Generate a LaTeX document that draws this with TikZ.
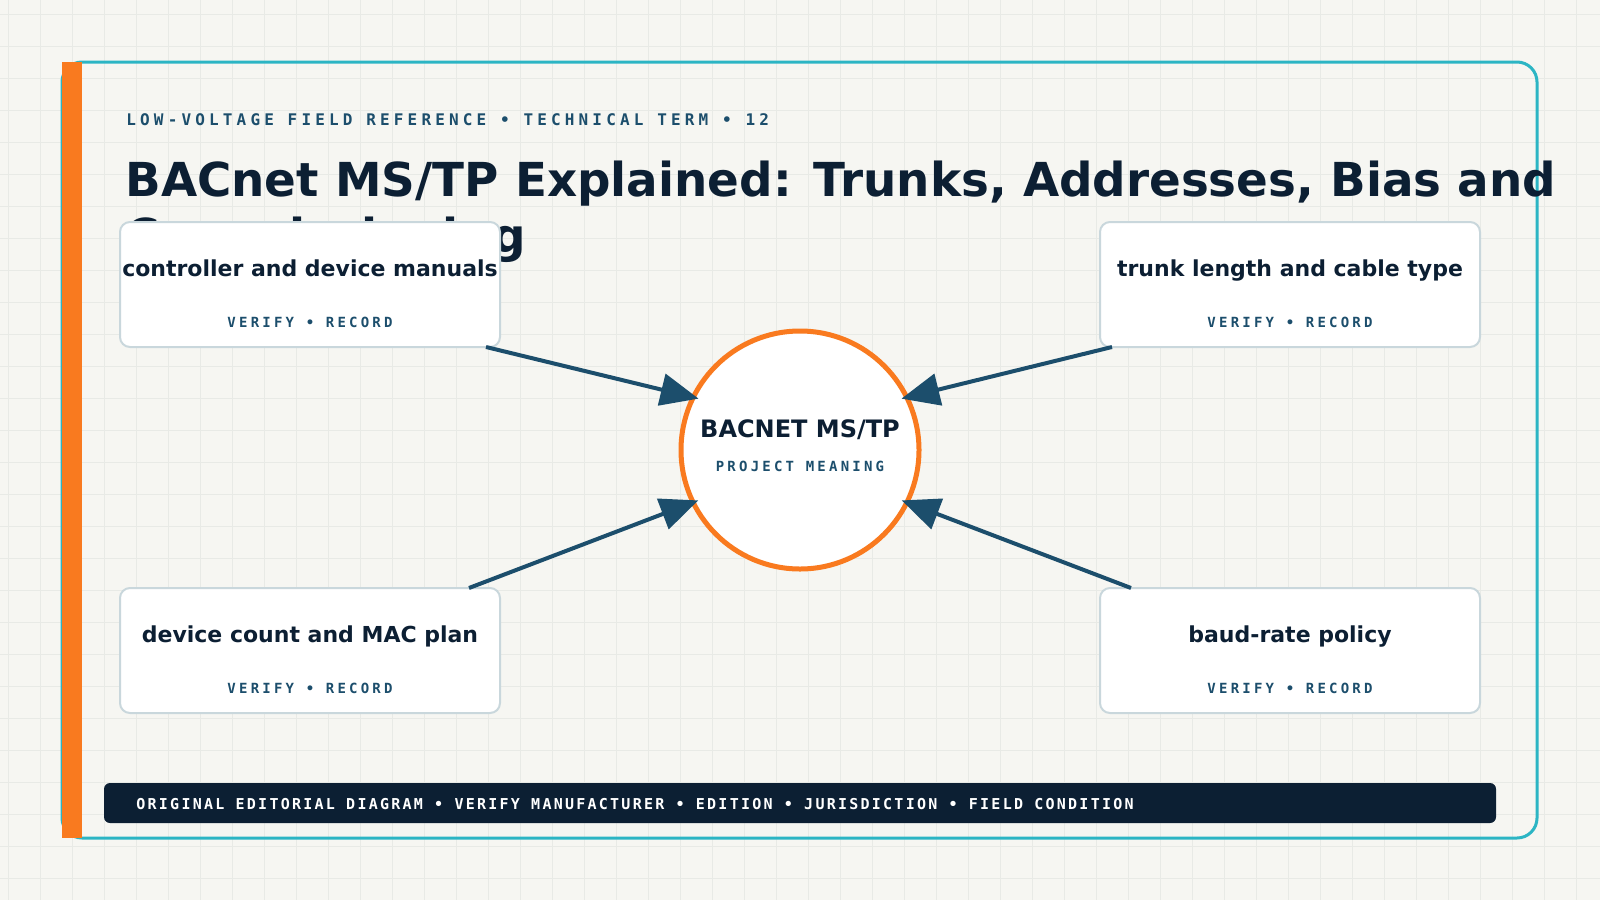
\documentclass[tikz,border=0pt]{standalone}
\usepackage{fontspec}
\setmainfont{DejaVu Sans}
\newfontfamily\monof{DejaVu Sans Mono}
\usetikzlibrary{arrows.meta}
\definecolor{bg}{HTML}{F6F6F2}
\definecolor{gridc}{HTML}{E8EAE6}
\definecolor{teal}{HTML}{2CB5C4}
\definecolor{orng}{HTML}{F97A1F}
\definecolor{navy}{HTML}{0C1F33}
\definecolor{steel}{HTML}{1C4E6C}
\definecolor{boxs}{HTML}{C9D7DC}
\tikzset{
 box/.style={draw=boxs,line width=1pt,fill=white,rounded corners=5pt},
 ttl/.style={font=\fontsize{11}{13}\selectfont\bfseries,text=navy,anchor=base},
 sub/.style={font=\monof\fontsize{7}{9}\selectfont\bfseries\addfontfeature{LetterSpace=23},text=steel,anchor=base},
 arr/.style={draw=steel,line width=2pt,-{Triangle[length=19pt,width=16pt]},shorten >=-4pt}
}
\begin{document}
\begin{tikzpicture}[x=0.5pt,y=-0.5pt]
\useasboundingbox (0,0) rectangle (1600,900);
\fill[bg] (0,0) rectangle (1600,900);
\foreach \i in {0,...,50} \draw[gridc,line width=0.5pt] (\i*32+8,0) -- (\i*32+8,900);
\foreach \j in {0,...,28} \draw[gridc,line width=0.5pt] (0,\j*32+14) -- (1600,\j*32+14);
\draw[teal,line width=1.5pt,rounded corners=10pt] (62,62) rectangle (1537,838);
\fill[orng] (62,62) rectangle (82,838);
\node[anchor=base west,inner sep=0,font=\monof\fontsize{8}{10}\selectfont\bfseries\addfontfeature{LetterSpace=26},text=steel] (hdr) at (126,125) {LOW-VOLTAGE FIELD REFERENCE • TECHNICAL TERM • 12};
\node[anchor=base west,inner sep=0,font=\fontsize{23.4}{28}\selectfont\bfseries,text=navy] (t1) at (125,196) {BACnet MS/TP Explained: Trunks, Addresses, Bias and};
\node[anchor=base west,inner sep=0,font=\fontsize{23.4}{28}\selectfont\bfseries,text=navy] (t2) at (125,252) {Commissioning};
\foreach \n/\x/\y/\t in {a/120/222/controller and device manuals, b/1100/222/trunk length and cable type, c/120/588/device count and MAC plan, d/1100/588/baud-rate policy}{
 \draw[box] (\x,\y) rectangle ++(380,125);
 \node[ttl] (\n t) at (\x+190,\y+54) {\t};
 \node[sub] (\n s) at (\x+190,\y+105) {VERIFY • RECORD};
 \coordinate (\n) at (\x+190,\y+62);
}
\node[circle,draw=orng,line width=2.5pt,fill=white,minimum size=238pt*0.5,inner sep=0] (hub) at (800,450) {};
\node[font=\fontsize{12}{14}\selectfont\bfseries,text=navy,anchor=base] (hl) at (800,437) {BACNET MS/TP};
\node[sub] (hs) at (800,471) {PROJECT MEANING};
\coordinate (a1) at (486,347); \coordinate (b1) at (1112,347);
\coordinate (c1) at (469,588); \coordinate (d1) at (1131,588);
\draw[arr] (a1) -- (hub.154);
\draw[arr] (b1) -- (hub.26);
\draw[arr] (c1) -- (hub.206);
\draw[arr] (d1) -- (hub.334);
\fill[navy,rounded corners=3pt] (104,783) rectangle (1496,823);
\node[anchor=west,inner sep=0,font=\monof\fontsize{7.5}{9}\selectfont\bfseries\addfontfeature{LetterSpace=15},text=white] (ft) at (136,804) {ORIGINAL EDITORIAL DIAGRAM • VERIFY MANUFACTURER • EDITION • JURISDICTION • FIELD CONDITION};
\end{tikzpicture}
\end{document}
